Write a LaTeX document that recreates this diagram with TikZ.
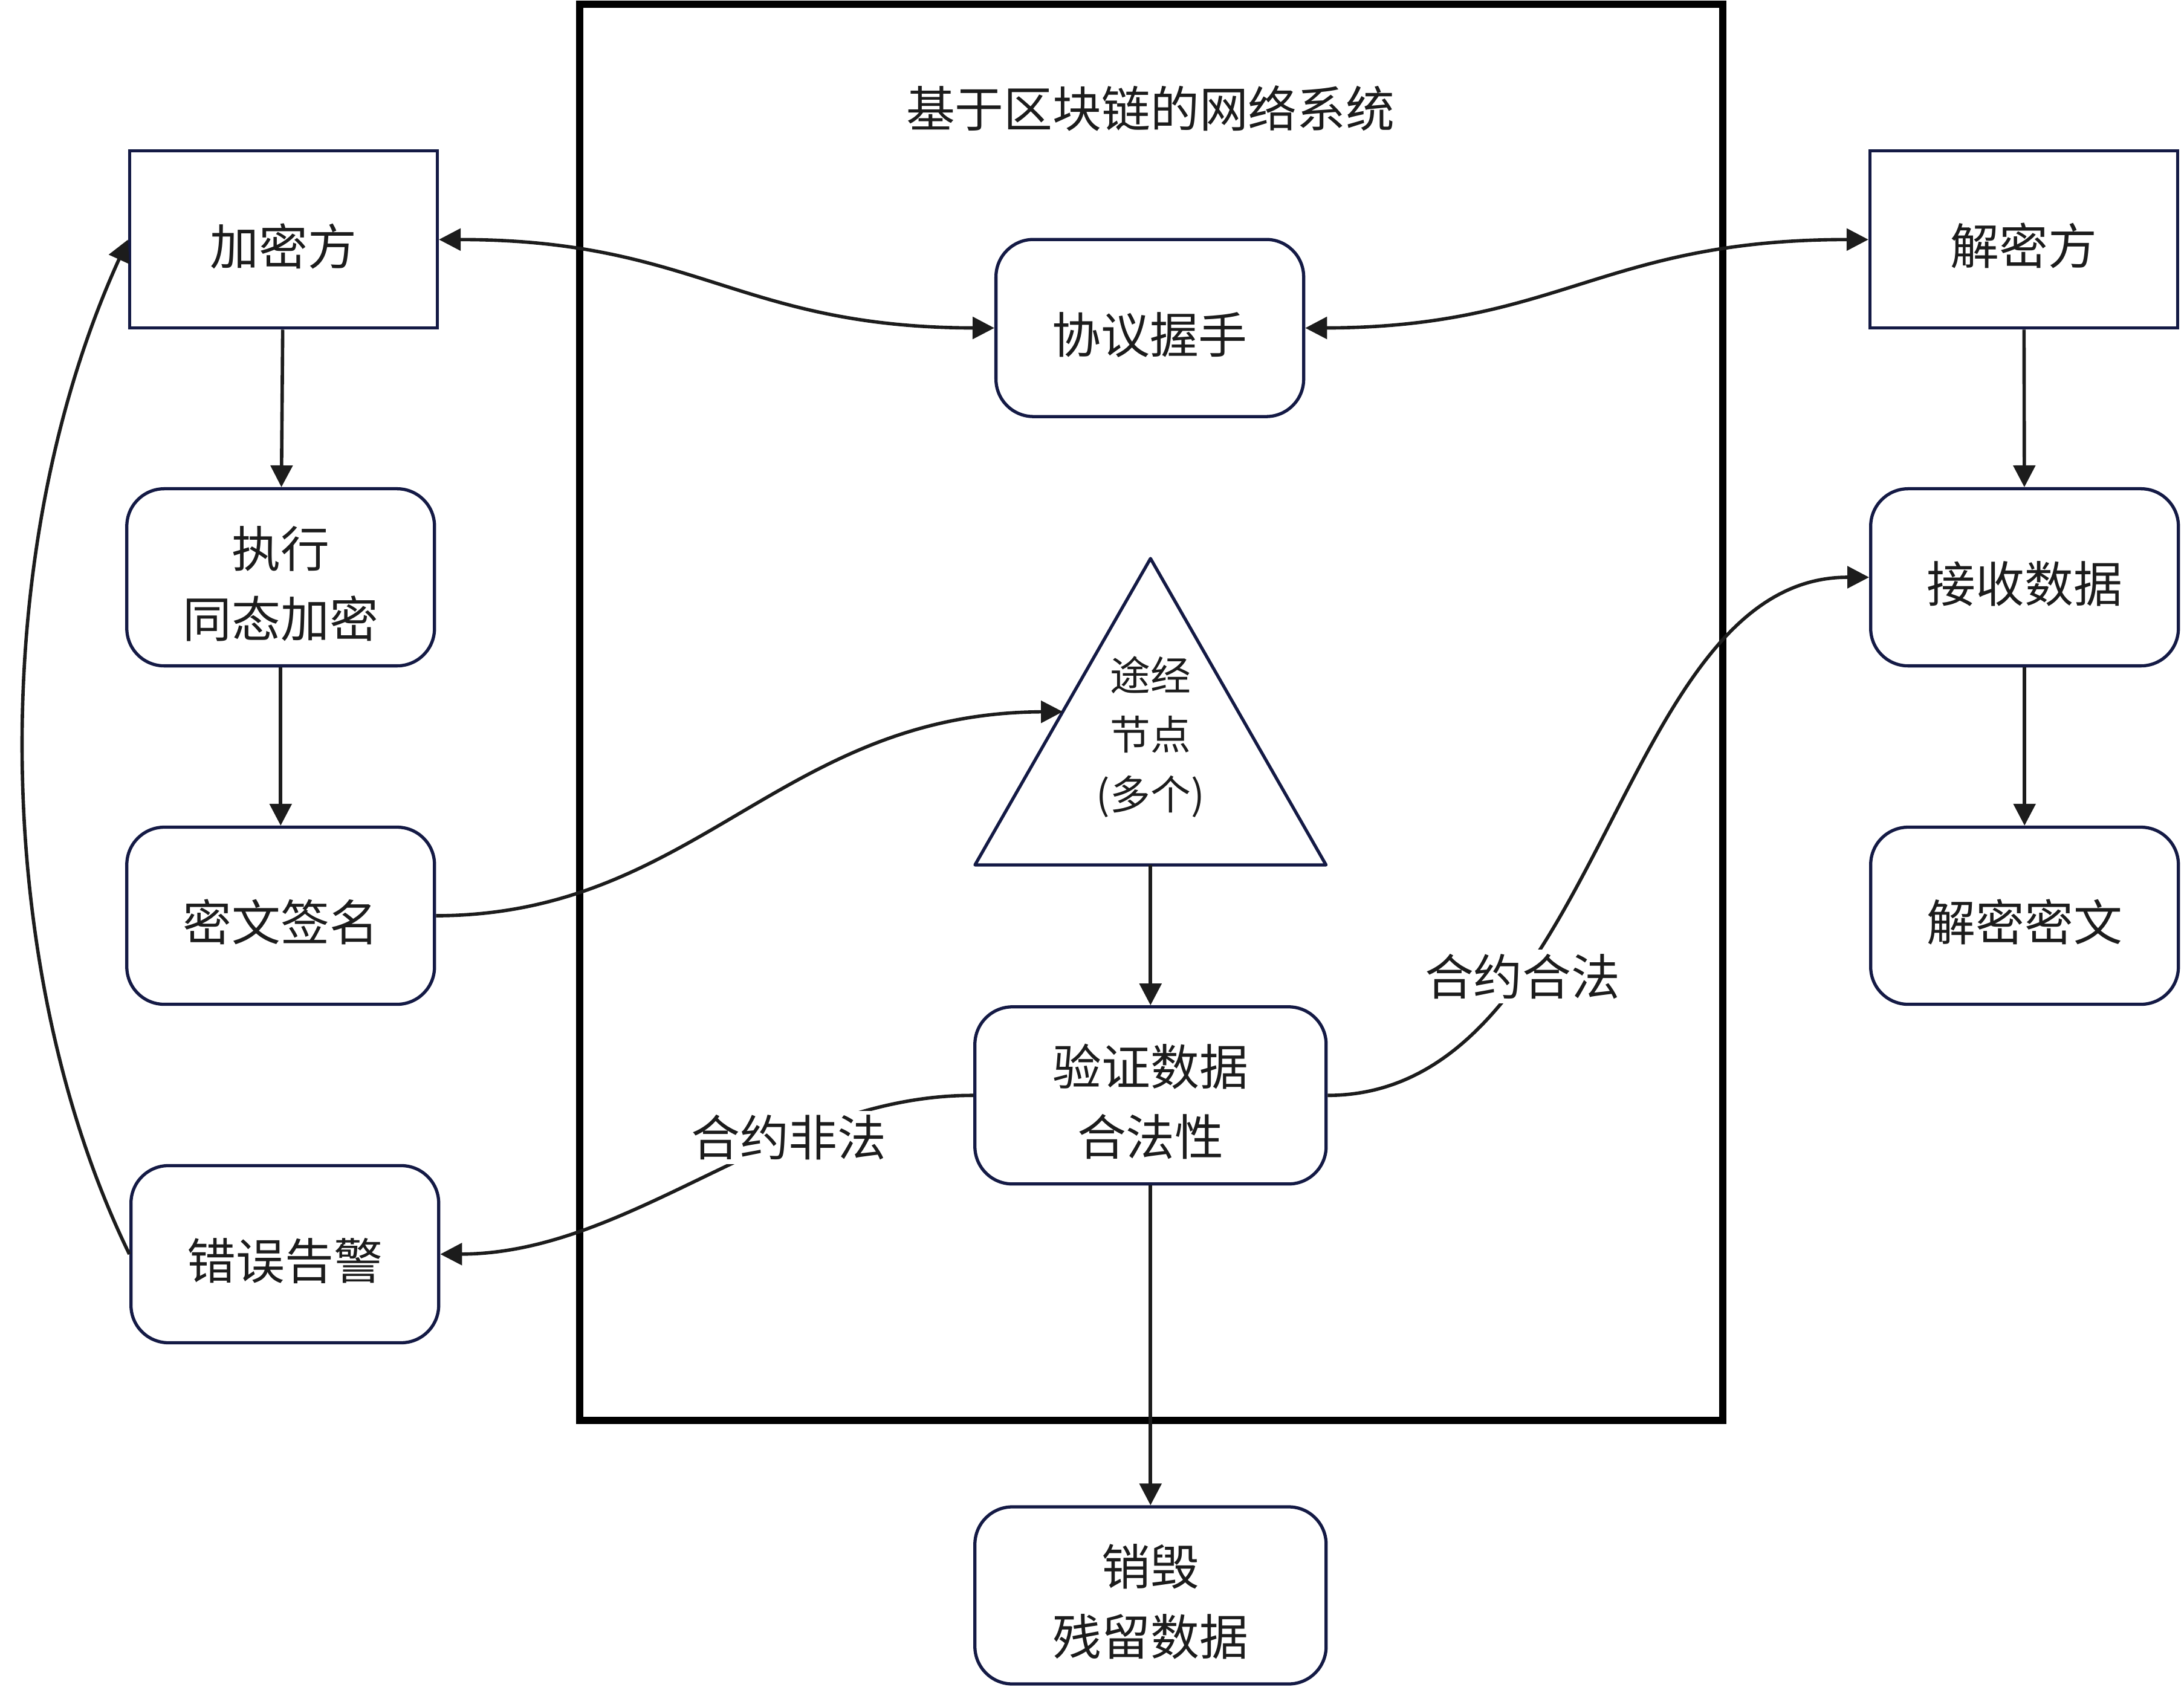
\documentclass[tikz,border=0pt]{standalone}
\usepackage{fontspec}
\setmainfont{Noto Sans CJK SC}
\usepackage{tikz}
\usetikzlibrary{arrows.meta}
\definecolor{navy}{HTML}{141A45}
\definecolor{ink}{HTML}{1C1C1C}

\begin{document}
\begin{tikzpicture}[x=0.02304cm,y=-0.02304cm,
  every node/.style={text=ink,font=\fontsize{23}{33}\selectfont,align=center},
  box/.style={draw=navy,line width=1.5pt,minimum width=5.09cm,minimum height=2.93cm,inner sep=0pt,text height=0.9cm},
  rbox/.style={box,rounded corners=0.62cm},
  wbox/.style={rbox,minimum width=5.81cm},
  twoline/.style={text height=2.05cm},
  link/.style={draw=ink,line width=1.6pt,-{Triangle[length=0.36cm,width=0.36cm]}},
  dlink/.style={link,{Triangle[length=0.36cm,width=0.36cm]}-{Triangle[length=0.36cm,width=0.36cm]}},
  tag/.style={fill=white,inner sep=2pt}]
\useasboundingbox (0,0) rectangle (1568,1213);
\draw[line width=3.4pt] (416,3) rectangle (1237,1020);
\node (title) at (826,78) {基于区块链的网络系统};
\node[box] (jmf) at (203.5,172) {加密方};
\node[box] (jiemf) at (1453,172) {解密方};
\node[rbox] (xy) at (825.5,235.5) {协议握手};
\node[rbox,twoline] (zx) at (201.5,414.5) {执行\\同态加密};
\node[rbox] (qm) at (201.5,657.5) {密文签名};
\node[rbox] (cw) at (204.5,900.5) {错误告警};
\node[rbox] (js) at (1453.5,414.5) {接收数据};
\node[rbox] (jm) at (1453.5,657.5) {解密密文};
\node[wbox,twoline] (yz) at (826,786.5) {验证数据\\合法性};
\node[wbox,twoline] (xh) at (826,1145.5) {销毁\\残留数据};
\draw[draw=navy,line width=1.5pt,line join=round] (700,621) -- (826,401) -- (952,621) -- cycle;
\coordinate (tl) at (763,511);
\coordinate (tb) at (826,621);
\node[font=\fontsize{19}{28}\selectfont] (tj) at (826,529) {途经\\节点\\(多个)};
\draw[dlink] (jmf.east) .. controls (500,172) and (530,235) .. (xy.west);
\draw[dlink] (jiemf.west) .. controls (1150,172) and (1120,235) .. (xy.east);
\draw[link] (jmf) -- (zx);
\draw[link] (zx) -- (qm);
\draw[link] (jiemf) -- (js);
\draw[link] (js) -- (jm);
\draw[link] (qm.east) .. controls (500,657) and (560,512) .. (tl);
\draw[link] (tb) -- (yz);
\draw[link] (yz) -- (xh);
\draw[link] (yz.west) .. controls (560,786) and (455,900) .. node[tag,pos=0.34] {合约非法} (cw.east);
\draw[link] (yz.east) .. controls (1150,786) and (1160,414) .. node[tag,pos=0.31] {合约合法} (js.west);
\draw[link] (cw.west) .. controls (-5,700) and (-12,400) .. (jmf.west);
\end{tikzpicture}
\end{document}
